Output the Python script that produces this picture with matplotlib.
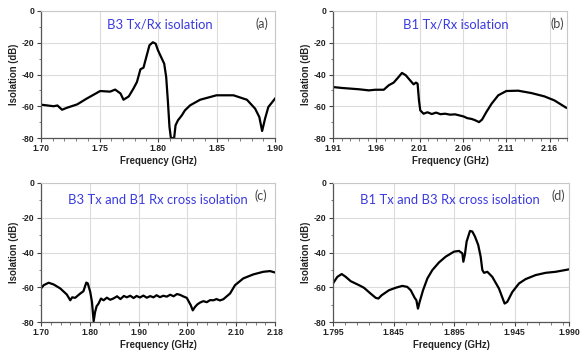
import matplotlib
matplotlib.use("Agg")
import matplotlib.pyplot as plt
from matplotlib.ticker import MultipleLocator, FixedLocator

# ---------------- data ----------------
freq_a = [1.700, 1.7108, 1.714, 1.718, 1.722, 1.731, 1.739, 1.7506, 1.759, 1.7634, 1.768,
          1.7705, 1.775, 1.779, 1.782, 1.785, 1.7876, 1.790, 1.7927, 1.7956, 1.798, 1.800,
          1.8024, 1.8053, 1.807, 1.8084, 1.8098, 1.811, 1.8138, 1.815, 1.817, 1.8204, 1.823,
          1.8275, 1.836, 1.850, 1.8645, 1.876, 1.883, 1.8866, 1.889, 1.8915, 1.8943, 1.900]
iso_a = [-59.0, -60.0, -59.5, -62.2, -61.0, -58.8, -55.2, -50.4, -50.8, -49.5, -52.0,
         -55.9, -53.8, -48.9, -44.7, -36.7, -35.7, -29.0, -21.6, -19.7, -20.6, -24.8,
         -28.6, -33.2, -41.6, -56.3, -73.0, -80.0, -80.0, -72.0, -68.9, -65.7, -62.6,
         -59.4, -55.9, -53.1, -53.1, -55.9, -61.5, -66.8, -75.6, -67.8, -60.5, -55.2]

freq_b = [1.910, 1.9207, 1.9399, 1.9513, 1.959, 1.9686, 1.9743, 1.980, 1.985, 1.9896, 1.994,
          1.999, 2.003, 2.0057, 2.0076, 2.0092, 2.0107, 2.0145, 2.019, 2.024, 2.029, 2.034,
          2.0394, 2.045, 2.0509, 2.0605, 2.065, 2.070, 2.074, 2.0785, 2.082, 2.087, 2.093,
          2.1007, 2.110, 2.1236, 2.139, 2.154, 2.1654, 2.179]
iso_b = [-47.9, -48.5, -49.3, -50.0, -49.6, -49.6, -46.8, -45.1, -42.0, -39.0, -40.5,
         -43.7, -46.2, -45.1, -45.8, -56.3, -62.6, -64.7, -63.8, -64.9, -64.0, -65.0,
         -64.7, -65.3, -65.1, -66.4, -67.5, -68.0, -68.8, -70.0, -68.4, -63.6, -58.4,
         -53.1, -50.4, -50.2, -51.7, -53.8, -56.3, -60.9]

freq_c = [1.700, 1.7055, 1.7157, 1.726, 1.7396, 1.753, 1.760, 1.764, 1.770, 1.7806, 1.787,
          1.7929, 1.796, 1.801, 1.8045, 1.808, 1.811, 1.814, 1.818, 1.823, 1.8284, 1.835,
          1.842, 1.849, 1.856, 1.863, 1.870, 1.876, 1.883, 1.890, 1.896, 1.903, 1.910,
          1.917, 1.924, 1.9308, 1.937, 1.944, 1.951, 1.958, 1.965, 1.972, 1.979, 1.9854,
          1.992, 1.999, 2.0073, 2.0113, 2.016, 2.021, 2.0264, 2.033, 2.040, 2.047, 2.0537,
          2.060, 2.067, 2.074, 2.0878, 2.098, 2.115, 2.1356, 2.156, 2.1697, 2.180]
iso_c = [-60.7, -58.8, -57.4, -58.4, -60.7, -64.2, -67.5, -65.8, -66.1, -63.6, -62.3,
         -57.3, -57.8, -62.7, -68.4, -79.6, -74.2, -71.0, -69.4, -66.5, -67.5, -66.0,
         -67.2, -66.4, -65.2, -66.8, -65.0, -65.8, -64.9, -66.2, -65.0, -65.9, -64.8,
         -66.0, -65.1, -65.8, -64.6, -65.7, -64.9, -65.4, -64.3, -65.2, -63.9, -64.4,
         -65.3, -66.1, -70.4, -73.3, -71.3, -69.8, -68.8, -68.0, -68.6, -67.4, -67.5,
         -66.8, -67.6, -66.9, -63.6, -58.8, -54.9, -52.6, -51.1, -50.7, -51.5]

freq_d = [1.795, 1.7986, 1.8022, 1.8055, 1.8096, 1.8165, 1.8206, 1.826, 1.8303, 1.8325,
          1.8352, 1.8413, 1.8468, 1.8523, 1.8564, 1.8592, 1.8625, 1.8639, 1.8652, 1.8666,
          1.8694, 1.873, 1.8771, 1.8826, 1.8881, 1.895, 1.8991, 1.9019, 1.9027, 1.904,
          1.9054, 1.9082, 1.9101, 1.9123, 1.915, 1.917, 1.9184, 1.9198, 1.9225, 1.9266,
          1.9321, 1.9368, 1.939, 1.9432, 1.9487, 1.9542, 1.9624, 1.9707, 1.979, 1.990]
iso_d = [-57.8, -54.0, -52.4, -54.0, -56.5, -58.8, -60.3, -63.6, -66.1, -66.5,
         -64.6, -61.7, -60.3, -59.2, -59.8, -61.7, -66.1, -67.5, -72.3, -68.4,
         -61.7, -54.9, -50.1, -45.7, -42.4, -39.5, -39.1, -40.5, -45.3, -41.1,
         -33.7, -27.6, -27.9, -30.8, -35.7, -42.4, -50.1, -51.7, -51.1, -54.0,
         -60.7, -69.4, -68.4, -62.7, -57.8, -55.3, -53.0, -51.7, -51.1, -49.7]

titles = ["B3 Tx/Rx isolation", "B1 Tx/Rx isolation",
          "B3 Tx and B1 Rx cross isolation", "B1 Tx and B3 Rx cross isolation"]
labels = ["(a)", "(b)", "(c)", "(d)"]
xlims = [(1.70, 1.90), (1.91, 2.18), (1.70, 2.18), (1.795, 1.990)]
xticks = [[1.70, 1.75, 1.80, 1.85, 1.90],
          [1.91, 1.96, 2.01, 2.06, 2.11, 2.16],
          [1.70, 1.80, 1.90, 2.00, 2.10, 2.18],
          [1.795, 1.845, 1.895, 1.945, 1.990]]
xticklabels = [["1.70", "1.75", "1.80", "1.85", "1.90"],
               ["1.91", "1.96", "2.01", "2.06", "2.11", "2.16"],
               ["1.70", "1.80", "1.90", "2.00", "2.10", "2.18"],
               ["1.795", "1.845", "1.895", "1.945", "1.990"]]
minor_step = [0.01, 0.01, 0.02, 0.01]
yticks = [0, -20, -40, -60, -80]

series = [(freq_a, iso_a), (freq_b, iso_b), (freq_c, iso_c), (freq_d, iso_d)]

# ---------------- figure ----------------
fig = plt.figure(figsize=(5.87, 3.53), dpi=100)
positions = [
    [41/587, 1-138/353, 234/587, 127/353],
    [333/587, 1-138/353, 234/587, 127/353],
    [41/587, 1-322/353, 234/587, 139/353],
    [333/587, 1-322/353, 236/587, 139/353],
]
title_pos = [(0.282, 0.89), (0.30, 0.89), (0.115, 0.878), (0.115, 0.878)]
label_pos = [(0.97, 0.90), (0.986, 0.90), (0.966, 0.91), (0.983, 0.91)]
title_color = "#3a3ae0"
tick_font = dict(family="Liberation Sans", weight="bold", size=6.2)

for i, ax_pos in enumerate(positions):
    ax = fig.add_axes(ax_pos)
    x, y = series[i]
    ax.plot(x, y, color="black", lw=1.6, solid_joinstyle="round")
    ax.set_xlim(*xlims[i])
    ax.set_ylim(-80, 0)
    ax.set_xticks(xticks[i])
    ax.set_xticklabels(xticklabels[i], **tick_font, color="#222222")
    ax.set_yticks(yticks)
    ax.set_yticklabels([str(v) for v in yticks], **tick_font, color="#222222")
    lo, hi = xlims[i]
    minors = []
    v = lo
    while v < hi + 1e-9:
        minors.append(round(v, 4))
        v += minor_step[i]
    ax.xaxis.set_minor_locator(FixedLocator(minors))
    ax.yaxis.set_minor_locator(MultipleLocator(10))
    ax.tick_params(which="major", direction="out", length=3, width=0.8,
                   color="#444444", pad=1.5)
    ax.tick_params(which="minor", direction="out", length=1.8, width=0.6,
                   color="#666666")
    ax.grid(True, which="major", color="#dcdcdc", lw=0.8)
    ax.set_axisbelow(True)
    for s in ["top", "right"]:
        ax.spines[s].set_color("#c8c8c8")
        ax.spines[s].set_linewidth(0.8)
    for s in ["left", "bottom"]:
        ax.spines[s].set_color("#555555")
        ax.spines[s].set_linewidth(0.9)
    ax.set_xlabel("Frequency (GHz)", family="Liberation Sans", weight="bold",
                  size=6.9, color="#222222", labelpad=2)
    ax.set_ylabel("Isolation (dB)", family="Liberation Sans", weight="bold",
                  size=6.9, color="#222222", labelpad=2)
    ax.text(title_pos[i][0], title_pos[i][1], titles[i], transform=ax.transAxes,
            family="Lato", size=9.4, color=title_color, ha="left", va="center")
    ax.text(label_pos[i][0], label_pos[i][1], labels[i], transform=ax.transAxes,
            family="Lato", size=9, color="#444444", ha="right", va="center")

fig.savefig("out.png", dpi=100)
